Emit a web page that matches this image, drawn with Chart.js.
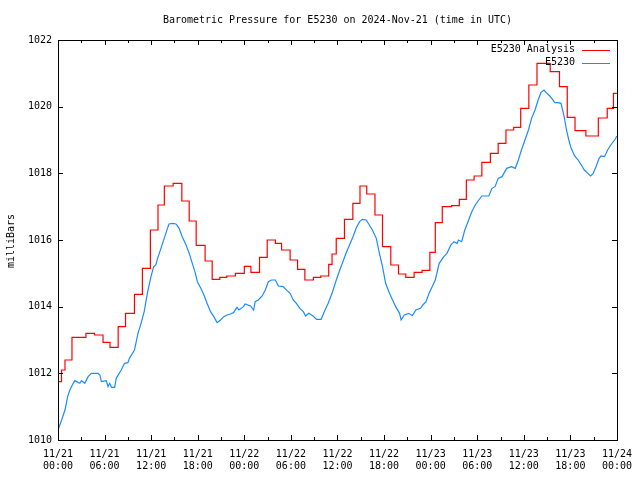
<!DOCTYPE html>
<html>
<head>
<meta charset="utf-8">
<script src="https://cdn.jsdelivr.net/npm/chart.js@4"></script>
<style>
  body { margin: 0; background: #fff; }
  #wrap { width: 640px; height: 480px; }
</style>
</head>
<body>
<div id="wrap"><canvas id="chart" width="640" height="480"></canvas></div>
<script>
// hours since 11/21 00:00 UTC, pressure in mb
const redHours = [0, 0.45, 0.9, 1.8, 3.6, 4.7, 5.8, 6.7, 7.75, 8.7, 9.85, 10.87, 11.9, 12.88, 13.7, 14.83,
    15.95, 16.9, 17.8, 18.95, 19.86, 20.84, 21.74, 22.85, 24.0, 24.85, 25.96, 26.95, 28.0, 28.8, 29.9,
    30.86, 31.8, 32.9, 33.85, 34.87, 35.3, 35.84, 36.9, 37.98, 38.9, 39.77, 40.83, 41.8, 42.87, 43.86,
    44.8, 45.87, 46.9, 47.9, 48.6, 49.5, 50.7, 51.7, 52.6, 53.6, 54.6, 55.7, 56.7, 57.7, 58.7, 59.6,
    60.65, 61.7, 63.4, 64.6, 65.6, 66.6, 68.0, 69.6, 70.75, 71.55, 72];
const redMb = [1011.75, 1012.1, 1012.4, 1013.08, 1013.2, 1013.15, 1012.93, 1012.78, 1013.4, 1013.8, 1014.37,
    1015.15, 1016.3, 1017.05, 1017.62, 1017.7, 1017.17, 1016.57, 1015.84, 1015.37, 1014.82, 1014.88,
    1014.92, 1015.0, 1015.21, 1015.03, 1015.48, 1016.0, 1015.9, 1015.7, 1015.4, 1015.12, 1014.8, 1014.88,
    1014.92, 1015.27, 1015.58, 1016.05, 1016.62, 1017.1, 1017.62, 1017.38, 1016.75, 1015.8, 1015.25,
    1014.98, 1014.88, 1015.03, 1015.09, 1015.63, 1016.52, 1017.0, 1017.03, 1017.22, 1017.8, 1017.92,
    1018.33, 1018.6, 1018.9, 1019.3, 1019.38, 1019.95, 1020.65, 1021.3, 1021.05, 1020.6, 1019.68,
    1019.28, 1019.12, 1019.66, 1019.95, 1020.4, 1020.4];

const blueHours = [0, 0.47, 0.9, 1.24, 1.53, 1.96, 2.17, 2.81, 3.03, 3.45, 3.88, 4.3, 5.16, 5.4, 5.58, 6.22,
    6.44, 6.65, 6.9, 7.3, 7.5, 8.14, 8.57, 9.0, 9.2, 9.85, 10.3, 10.7, 11.1, 11.55, 11.98, 12.32, 12.6,
    12.83, 13.26, 13.68, 14.1, 14.3, 14.75, 15.2, 15.6, 16.0, 16.5, 16.9, 17.3, 17.7, 17.95, 18.4, 18.8,
    19.2, 19.65, 20.07, 20.5, 20.93, 21.35, 21.78, 22.2, 22.6, 23.06, 23.3, 23.9, 24.1, 24.8, 25.2, 25.4,
    25.8, 26.3, 26.7, 27.1, 27.5, 28.0, 28.4, 29.0, 29.5, 29.9, 30.3, 30.7, 31.16, 31.6, 31.9, 32.3,
    32.86, 33.3, 33.9, 34.3, 34.8, 35.3, 35.85, 36.3, 36.7, 37.1, 37.55, 38.0, 38.4, 38.85, 39.2, 39.7,
    40.1, 40.5, 41.0, 41.4, 41.8, 42.2, 42.7, 43.1, 43.5, 44.0, 44.2, 44.6, 45.2, 45.65, 46.1, 46.7,
    47.0, 47.4, 47.8, 48.2, 48.6, 49.1, 49.7, 50.1, 50.6, 51.0, 51.4, 51.6, 52.0, 52.4, 52.9, 53.3,
    53.75, 54.2, 54.6, 55.5, 55.9, 56.3, 56.7, 57.2, 57.8, 58.4, 58.9, 59.3, 59.7, 60.15, 60.6, 61.0,
    61.45, 61.85, 62.2, 62.6, 62.9, 63.35, 63.6, 64.0, 64.4, 64.8, 65.2, 65.5, 65.8, 66.1, 66.55, 67.0,
    67.4, 67.8, 68.25, 68.6, 68.9, 69.3, 69.7, 69.95, 70.4, 70.8, 71.2, 71.7, 72.0];
const blueMb = [1010.3, 1010.6, 1010.9, 1011.3, 1011.5, 1011.7, 1011.78, 1011.7, 1011.78, 1011.7, 1011.9,
    1012.0, 1012.0, 1011.95, 1011.75, 1011.78, 1011.6, 1011.7, 1011.58, 1011.58, 1011.85, 1012.1, 1012.3,
    1012.32, 1012.45, 1012.7, 1013.2, 1013.5, 1013.85, 1014.45, 1014.9, 1015.2, 1015.25, 1015.45, 1015.75,
    1016.05, 1016.35, 1016.48, 1016.5, 1016.48, 1016.35, 1016.1, 1015.85, 1015.6, 1015.3, 1015.0, 1014.75,
    1014.55, 1014.35, 1014.1, 1013.85, 1013.7, 1013.52, 1013.6, 1013.7, 1013.75, 1013.78, 1013.82, 1013.98,
    1013.9, 1014.0, 1014.08, 1014.02, 1013.9, 1014.15, 1014.2, 1014.32, 1014.5, 1014.75, 1014.8, 1014.8,
    1014.62, 1014.6, 1014.48, 1014.4, 1014.2, 1014.1, 1013.95, 1013.85, 1013.72, 1013.8, 1013.72, 1013.62,
    1013.62, 1013.85, 1014.1, 1014.4, 1014.8, 1015.1, 1015.35, 1015.6, 1015.85, 1016.1, 1016.35, 1016.55,
    1016.62, 1016.6, 1016.45, 1016.3, 1016.05, 1015.6, 1015.2, 1014.7, 1014.4, 1014.2, 1014.0, 1013.8,
    1013.6, 1013.75, 1013.8, 1013.73, 1013.9, 1013.95, 1014.05, 1014.15, 1014.4, 1014.6, 1014.8, 1015.3,
    1015.5, 1015.6, 1015.85, 1015.95, 1015.9, 1016.0, 1015.95, 1016.3, 1016.6, 1016.85, 1017.05, 1017.2,
    1017.32, 1017.32, 1017.55, 1017.6, 1017.85, 1017.9, 1018.15, 1018.2, 1018.15, 1018.4, 1018.7, 1019.0,
    1019.3, 1019.65, 1019.9, 1020.2, 1020.42, 1020.5, 1020.42, 1020.32, 1020.25, 1020.12, 1020.12, 1020.1,
    1019.7, 1019.3, 1019.0, 1018.75, 1018.52, 1018.4, 1018.25, 1018.1, 1018.0, 1017.92, 1017.98, 1018.2,
    1018.45, 1018.52, 1018.5, 1018.7, 1018.85, 1019.0, 1019.12];

const dayLabels = ['11/21', '11/21', '11/21', '11/21', '11/22', '11/22', '11/22', '11/22',
    '11/23', '11/23', '11/23', '11/23', '11/24'];
const timeLabels = ['00:00', '06:00', '12:00', '18:00', '00:00', '06:00', '12:00', '18:00',
    '00:00', '06:00', '12:00', '18:00', '00:00'];

const seriesNames = ['E5230 Analysis', 'E5230'];
const seriesColors = ['#ff0000', '#1a8cff'];
const titleText = 'Barometric Pressure for E5230 on 2024-Nov-21 (time in UTC)';
const yTitle = 'milliBars';

const FONT = '10px "DejaVu Sans Mono", "Liberation Mono", monospace';

const to_points = (xs, ys) => xs.map((x, i) => ({x, y: ys[i]}));

// gnuplot-ish frame, inward ticks, title and key
const frame_plugin = {
    id: 'frame',
    afterDatasetsDraw(chart) {
        const {ctx, chartArea: a, scales: {x, y}} = chart;
        ctx.save();
        ctx.strokeStyle = '#000';
        ctx.lineWidth = 1;
        ctx.strokeRect(Math.round(a.left) + 0.5, Math.round(a.top) + 0.5,
            Math.round(a.right - a.left), Math.round(a.bottom - a.top));

        ctx.beginPath();
        for (let h = 0; h <= 72; h += 3) {
            const px = Math.round(x.getPixelForValue(h)) + 0.5;
            const len = h % 6 === 0 ? 5 : 3;
            ctx.moveTo(px, a.bottom); ctx.lineTo(px, a.bottom - len);
            ctx.moveTo(px, a.top); ctx.lineTo(px, a.top + len);
        }
        for (let v = 1010; v <= 1022; v += 2) {
            const py = Math.round(y.getPixelForValue(v)) + 0.5;
            ctx.moveTo(a.left, py); ctx.lineTo(a.left + 5, py);
            ctx.moveTo(a.right, py); ctx.lineTo(a.right - 5, py);
        }
        ctx.stroke();

        ctx.fillStyle = '#000';
        ctx.font = FONT;
        ctx.textBaseline = 'middle';
        ctx.textAlign = 'center';
        ctx.fillText(titleText, (a.left + a.right) / 2, 20);

        ctx.save();
        ctx.translate(11, 241);
        ctx.rotate(-Math.PI / 2);
        ctx.fillText(yTitle, 0, 0);
        ctx.restore();

        // key in the top right corner
        ctx.textAlign = 'right';
        seriesNames.forEach((name, i) => {
            const ky = 49.5 + i * 13;
            ctx.fillStyle = '#000';
            ctx.fillText(name, 575, ky);
            ctx.strokeStyle = seriesColors[i];
            ctx.beginPath();
            ctx.moveTo(582, Math.round(ky) + 0.5);
            ctx.lineTo(610, Math.round(ky) + 0.5);
            ctx.stroke();
        });
        ctx.restore();
    }
};

const ctx = document.getElementById('chart').getContext('2d');
const chart = new Chart(ctx, {
    type: 'line',
    data: {
        datasets: [
            {
                label: seriesNames[0],
                data: to_points(redHours, redMb),
                borderColor: seriesColors[0],
                borderWidth: 1.2,
                pointRadius: 0,
                stepped: true,
            },
            {
                label: seriesNames[1],
                data: to_points(blueHours, blueMb),
                borderColor: seriesColors[1],
                borderWidth: 1.2,
                pointRadius: 0,
                tension: 0,
            },
        ],
    },
    options: {
        responsive: false,
        animation: false,
        devicePixelRatio: 1,
        layout: { padding: { top: 40, right: 19, left: 0, bottom: 0 } },
        scales: {
            x: {
                type: 'linear',
                min: 0,
                max: 72,
                grid: { display: false, drawTicks: false },
                border: { display: false },
                afterFit: s => { s.height = 40; },
                ticks: {
                    stepSize: 6,
                    autoSkip: false,
                    maxRotation: 0,
                    padding: 8,
                    color: '#000',
                    font: { family: '"DejaVu Sans Mono", monospace', size: 10, lineHeight: 1.25 },
                    callback: v => [dayLabels[v / 6], timeLabels[v / 6]],
                },
            },
            y: {
                min: 1010,
                max: 1022,
                grid: { display: false, drawTicks: false },
                border: { display: false },
                afterFit: s => { s.width = 58; },
                ticks: {
                    stepSize: 2,
                    padding: 6,
                    color: '#000',
                    font: { family: '"DejaVu Sans Mono", monospace', size: 10 },
                    callback: v => String(v),
                },
            },
        },
        plugins: {
            legend: { display: false },
            tooltip: { enabled: false },
        },
    },
    plugins: [frame_plugin],
});
</script>
</body>
</html>
